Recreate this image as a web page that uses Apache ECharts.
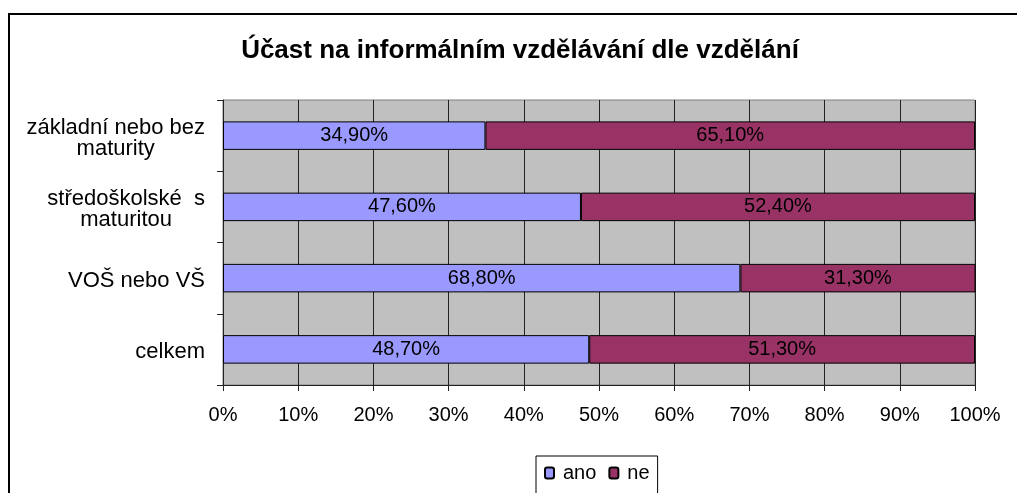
<!DOCTYPE html>
<html>
<head>
<meta charset="utf-8">
<style>
    html, body { margin: 0; padding: 0; background: #fff; }
    #chart { width: 1017px; height: 493px; }
</style>
</head>
<body>
<div id="chart"></div>
<script src="https://cdn.jsdelivr.net/npm/echarts@6/dist/echarts.min.js"></script>
<script>
    // data
    var categories = ['základní nebo bez\nmaturity', 'středoškolské  s\nmaturitou', 'VOŠ nebo VŠ', 'celkem'];
    var ano = [34.9, 47.6, 68.8, 48.7];
    var ne = [65.1, 52.4, 31.3, 51.3];
    var xTicks = [0, 10, 20, 30, 40, 50, 60, 70, 80, 90, 100];

    var font = "'Liberation Sans', Arial, sans-serif";

    function pct(v) {
        return v.toFixed(2).replace('.', ',') + '%';
    }

    var option = {
        animation: false,
        backgroundColor: '#fff',
        textStyle: { fontFamily: font, color: '#000' },
        title: {
            text: 'Účast na informálním vzdělávání dle vzdělání',
            left: 520,
            textAlign: 'center',
            top: 38,
            padding: 0,
            textStyle: { fontFamily: font, fontSize: 26, fontWeight: 'bold', color: '#000' }
        },
        legend: {
            data: ['ano', 'ne'],
            left: 536,
            top: 456,
            padding: [7, 8, 30, 8],
            itemWidth: 9,
            itemHeight: 11,
            itemGap: 12,
            borderColor: '#000',
            borderWidth: 1,
            textStyle: { fontFamily: font, fontSize: 20, color: '#000', padding: [0, 0, 0, 4] }
        },
        grid: {
            left: 223,
            right: 42,
            top: 100,
            bottom: 108,
            show: true,
            backgroundColor: '#C0C0C0',
            borderColor: '#808080',
            borderWidth: 1,
            containLabel: false
        },
        xAxis: {
            type: 'value',
            min: xTicks[0],
            max: xTicks[xTicks.length - 1],
            interval: xTicks[1] - xTicks[0],
            axisLine: { show: true, lineStyle: { color: '#222', width: 1 } },
            axisTick: { show: true, length: 6, lineStyle: { color: '#222' } },
            splitLine: { show: true, lineStyle: { color: '#222', width: 1 } },
            axisLabel: {
                margin: 20,
                fontFamily: font,
                fontSize: 20,
                color: '#000',
                formatter: '{value}%'
            }
        },
        yAxis: {
            type: 'category',
            inverse: true,
            data: categories,
            axisLine: { show: true, lineStyle: { color: '#222', width: 1 } },
            axisTick: { show: true, length: 6, alignWithLabel: false, lineStyle: { color: '#222' } },
            splitLine: { show: false },
            axisLabel: {
                margin: 18,
                align: 'right',
                color: '#000',
                padding: [5, 0, 0, 0],
                formatter: function (v) {
                    return v.split('\n').map(function (l) { return '{c|' + l + '}'; }).join('\n');
                },
                rich: {
                    c: { align: 'center', fontFamily: font, fontSize: 22, lineHeight: 21, color: '#000' }
                }
            }
        },
        series: [
            {
                name: 'ano',
                type: 'bar',
                stack: 'total',
                barWidth: '40%',
                data: ano,
                itemStyle: { color: '#9999FF', borderColor: '#000', borderWidth: 1 },
                label: {
                    show: true,
                    position: 'inside',
                    fontFamily: font,
                    fontSize: 20,
                    color: '#000',
                    formatter: function (p) { return pct(p.value); }
                }
            },
            {
                name: 'ne',
                type: 'bar',
                stack: 'total',
                barWidth: '40%',
                data: ne,
                itemStyle: { color: '#993366', borderColor: '#000', borderWidth: 1 },
                label: {
                    show: true,
                    position: 'inside',
                    fontFamily: font,
                    fontSize: 20,
                    color: '#000',
                    formatter: function (p) { return pct(p.value); }
                }
            }
        ],
        graphic: [
            {
                type: 'rect',
                silent: true,
                shape: { x: 9, y: 14, width: 1200, height: 700 },
                style: { fill: 'none', stroke: '#000', lineWidth: 2 }
            }
        ]
    };

    var myChart = echarts.init(document.getElementById('chart'), null, { renderer: 'canvas' });
    myChart.setOption(option);
</script>
</body>
</html>
